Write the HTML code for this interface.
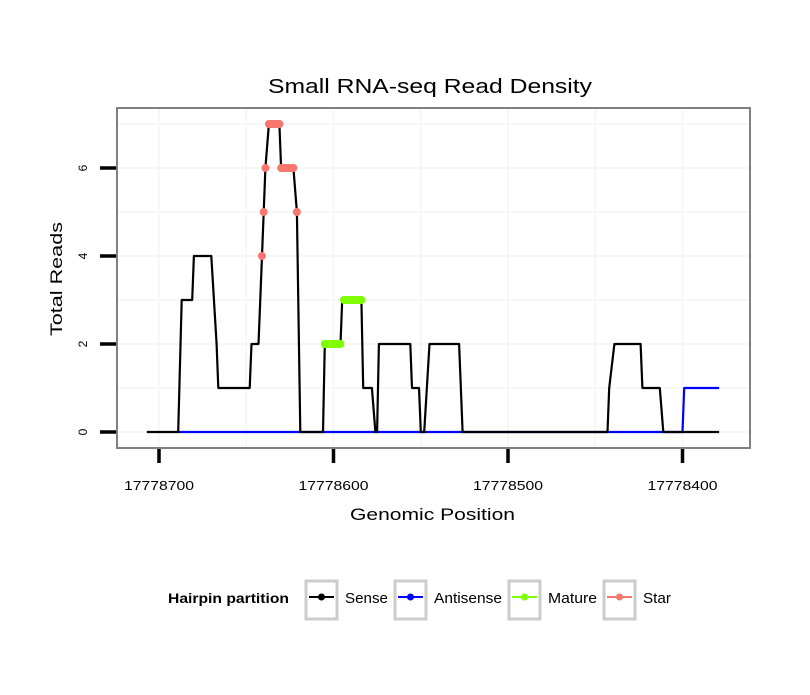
<!DOCTYPE html>
<html><head><meta charset="utf-8">
<style>
html,body{margin:0;padding:0;background:#fff;}
svg text{font-family:"Liberation Sans",Arial,sans-serif;}
</style></head>
<body>
<svg id="chart" width="810" height="690" viewBox="0 0 810 690" xmlns="http://www.w3.org/2000/svg">
<rect x="0" y="0" width="810" height="690" fill="#fff"/>
<text x="268" y="93" font-size="20" textLength="324" lengthAdjust="spacingAndGlyphs" fill="#000">Small RNA-seq Read Density</text>
<g id="grid"></g>
<g id="series"></g>
<rect x="117" y="108" width="633" height="340" fill="none" stroke="#808080" stroke-width="2"/>
<g id="axes"></g>
<text x="350" y="520" font-size="17" textLength="165" lengthAdjust="spacingAndGlyphs">Genomic Position</text>
<text transform="translate(62,336) rotate(-90)" font-size="17" textLength="114" lengthAdjust="spacingAndGlyphs">Total Reads</text>
<g>
<text x="168" y="603" font-size="14" font-weight="bold" textLength="121" lengthAdjust="spacingAndGlyphs">Hairpin partition</text>
<g>
<rect x="306" y="581" width="31" height="38" fill="#fff" stroke="#cccccc" stroke-width="3"/>
<line x1="309" y1="597" x2="334" y2="597" stroke="#000" stroke-width="2"/><circle cx="321.5" cy="597" r="3.5" fill="#000"/>
<text x="345" y="603" font-size="15" textLength="43" lengthAdjust="spacingAndGlyphs">Sense</text></g>
<g>
<rect x="395" y="581" width="31" height="38" fill="#fff" stroke="#cccccc" stroke-width="3"/>
<line x1="398" y1="597" x2="423" y2="597" stroke="#0000ff" stroke-width="2"/><circle cx="410.5" cy="597" r="3.5" fill="#0000ff"/>
<text x="434" y="603" font-size="15" textLength="68" lengthAdjust="spacingAndGlyphs">Antisense</text></g>
<g>
<rect x="509" y="581" width="31" height="38" fill="#fff" stroke="#cccccc" stroke-width="3"/>
<line x1="512" y1="597" x2="537" y2="597" stroke="#7fff00" stroke-width="2"/><circle cx="524.5" cy="597" r="3.5" fill="#7fff00"/>
<text x="548" y="603" font-size="15" textLength="49" lengthAdjust="spacingAndGlyphs">Mature</text></g>
<g>
<rect x="604" y="581" width="31" height="38" fill="#fff" stroke="#cccccc" stroke-width="3"/>
<line x1="607" y1="597" x2="632" y2="597" stroke="#f8766d" stroke-width="2"/><circle cx="619.5" cy="597" r="3.5" fill="#f8766d"/>
<text x="643" y="603" font-size="15" textLength="28" lengthAdjust="spacingAndGlyphs">Star</text></g>
</g>
</svg>
<script>
const senseBreakPos = [17778707,17778689,17778687,17778681,17778680,17778670,17778667,17778666,17778648,17778647,17778643,17778641,17778640,17778639,17778637,17778631,17778630,17778623,17778621,17778619,17778606,17778605,17778596,17778595,17778584,17778583,17778578,17778576,17778575,17778574,17778556,17778555,17778551,17778550,17778548,17778545,17778528,17778526,17778443,17778442,17778439,17778424,17778423,17778413,17778411,17778379];
const senseBreakVal = [0,0,3,3,4,4,2,1,1,2,2,4,5,6,7,7,6,6,5,0,0,2,2,3,3,1,1,0,0,2,2,1,1,0,0,2,2,0,0,1,2,2,1,1,0,0];
const antiBreakPos = [17778689,17778400,17778399,17778379];
const antiBreakVal = [0,0,1,1];
const starRunStart = [17778641,17778640,17778639,17778637,17778630,17778621];
const starRunEnd   = [17778641,17778640,17778639,17778631,17778623,17778621];
const starRunVal   = [4,5,6,7,6,5];
const matureRunStart = [17778605,17778594];
const matureRunEnd   = [17778596,17778584];
const matureRunVal   = [2,3];
const xTicks = [17778700,17778600,17778500,17778400];
const xMinorGrid = [17778650,17778550,17778450];
const yTicks = [0,2,4,6];
const yMinorGrid = [1,3,5,7];

const NS="http://www.w3.org/2000/svg";
const X = p => 159 + (17778700 - p) * 1.745;
const Y = v => 432 - v * 44;
function mk(tag, attrs, parent){const e=document.createElementNS(NS,tag);for(const k in attrs)e.setAttribute(k,attrs[k]);parent.appendChild(e);return e;}
const grid=document.getElementById('grid'), series=document.getElementById('series'), axes=document.getElementById('axes');
yMinorGrid.concat(yTicks).forEach(v=>{const l=mk('line',{x1:118,x2:749,y1:Y(v),y2:Y(v),stroke:'#f7f7f7','stroke-width':2},grid);

});
xMinorGrid.concat(xTicks).forEach(p=>{const l=mk('line',{x1:X(p),x2:X(p),y1:109,y2:447,stroke:'#f7f7f7','stroke-width':2},grid);

});
function path(ps,vs,color,name){const d=ps.map((p,i)=>(i?'L':'M')+X(p).toFixed(1)+','+Y(vs[i]).toFixed(1)).join(' ');
const e=mk('path',{d:d,fill:'none',stroke:color,'stroke-width':2.2,'stroke-linejoin':'round'},series);

}
path(antiBreakPos,antiBreakVal,'#0000ff','antisense-line');
path(senseBreakPos,senseBreakVal,'#000000','sense-line');
function dots(st,en,vs,color,name){st.forEach((s,i)=>{for(let p=s;p>=en[i];p--){const c=mk('circle',{cx:X(p),cy:Y(vs[i]),r:4,fill:color},series);

}});}
dots(matureRunStart,matureRunEnd,matureRunVal,'#7fff00','mature-point');
dots(starRunStart,starRunEnd,starRunVal,'#f8766d','star-point');
xTicks.forEach(p=>{const t=mk('line',{x1:X(p),x2:X(p),y1:449,y2:463,stroke:'#000','stroke-width':3.5},axes);


const tx=mk('text',{x:X(p)-35,y:490,'font-size':13,textLength:70,lengthAdjust:'spacingAndGlyphs'},axes);tx.textContent=p;

});
yTicks.forEach(v=>{const t=mk('line',{x1:100,x2:116,y1:Y(v),y2:Y(v),stroke:'#000','stroke-width':3.5},axes);


const tx=mk('text',{transform:`translate(87,${Y(v)}) rotate(-90)`,'font-size':12,'text-anchor':'middle'},axes);tx.textContent=v;

});
</script>
</body></html>
